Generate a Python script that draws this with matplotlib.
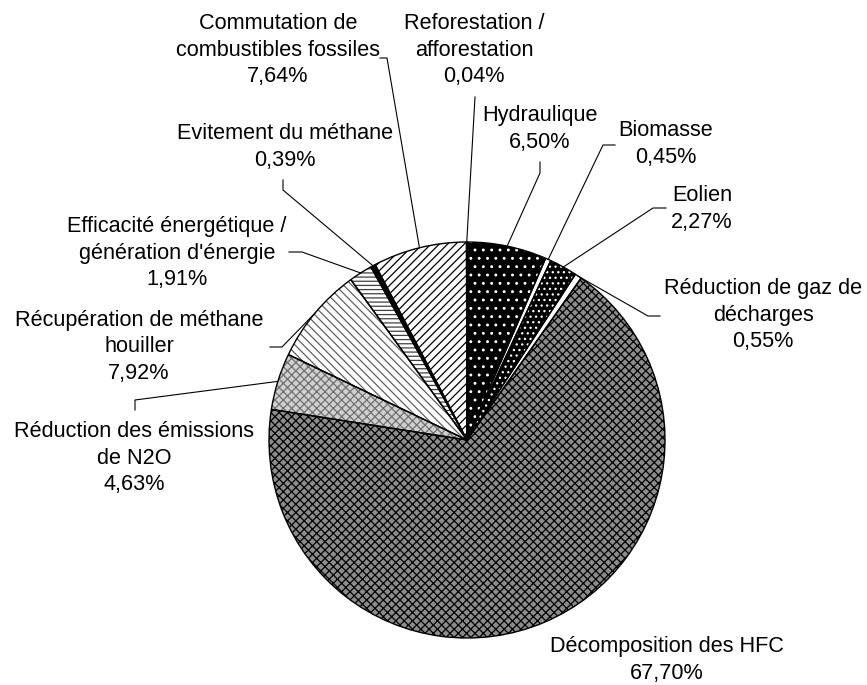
import numpy as np
import matplotlib
matplotlib.use("Agg")
import matplotlib.pyplot as plt

plt.rcParams['font.family'] = ['Liberation Sans', 'DejaVu Sans']
plt.rcParams['hatch.linewidth'] = 0.9

# data (clockwise from 12 o'clock)
categories = [
    "Hydraulique", "Biomasse", "Eolien", "Réduction de gaz de\ndécharges",
    "Décomposition des HFC", "Réduction des émissions\nde N2O",
    "Récupération de méthane\nhouiller", "Efficacité énergétique /\ngénération d'énergie",
    "Evitement du méthane", "Commutation de\ncombustibles fossiles",
    "Reforestation /\nafforestation",
]
shares = [6.50, 0.45, 2.27, 0.55, 67.70, 4.63, 7.92, 1.91, 0.39, 7.64, 0.04]
pct_labels = ["6,50%", "0,45%", "2,27%", "0,55%", "67,70%", "4,63%",
              "7,92%", "1,91%", "0,39%", "7,64%", "0,04%"]

# fill styles: face colour, hatch, hatch colour
styles = [
    ("black", "..", "white"),
    ("white", "", "white"),
    ("black", "...", "white"),
    ("white", "", "white"),
    ("#8c8c8c", "xxxx", "black"),
    ("#d0d0d0", "xxxx", "#707070"),
    ("white", "\\\\\\\\", "#606060"),
    ("white", "----", "#404040"),
    ("black", "", "black"),
    ("white", "////", "black"),
    ("white", "", "white"),
]

# label layout in pixels: text centre, leader points (text side first)
layout = [
    dict(text=(540, 129), lead=[(540, 162), (540, 173)]),
    dict(text=(666, 144), lead=[(615, 145), (603, 145)]),
    dict(text=(702, 209), lead=[(666, 208), (653, 208)]),
    dict(text=(763, 315), lead=[(660, 316), (648, 316)]),
    dict(text=(667, 660), lead=None),
    dict(text=(134, 458), lead=[(135, 410), (135, 400)]),
    dict(text=(139, 347), lead=[(270, 347), (282, 347)]),
    dict(text=(177, 253), lead=[(289, 252), (302, 252)]),
    dict(text=(285, 147), lead=[(283, 180), (283, 190)]),
    dict(text=(278, 50), lead=[(380, 58), (387, 58)]),
    dict(text=(474, 50), lead=[(475, 97)]),
]

W, H = 867, 685
cx, cy, r = 467, 440, 198

fig = plt.figure(figsize=(W / 100, H / 100), dpi=100)
ax = fig.add_axes([(cx - r) / W, (H - cy - r) / H, 2 * r / W, 2 * r / H])


def px(p):
    return ((p[0] - cx) / r, (cy - p[1]) / r)


wedges, _ = ax.pie(shares, startangle=90, counterclock=False, radius=1,
                   wedgeprops=dict(linewidth=0))
for w, (fc, hatch, hc) in zip(wedges, styles):
    w.set_facecolor(fc)
    w.set_hatch(hatch)
    w.set_edgecolor(hc)

outline, _ = ax.pie(shares, startangle=90, counterclock=False, radius=1,
                    wedgeprops=dict(fill=False, edgecolor='black', linewidth=1.0))

ax.set_xlim(-1, 1)
ax.set_ylim(-1, 1)
ax.set_aspect('equal')
ax.axis('off')

for w, name, pct, lay in zip(wedges, categories, pct_labels, layout):
    tx, ty = px(lay["text"])
    ax.text(tx, ty, f"{name}\n{pct}", ha='center', va='center', fontsize=15.6,
            linespacing=1.33, clip_on=False)
    if lay["lead"]:
        mid = np.deg2rad((w.theta1 + w.theta2) / 2)
        pts = [px(p) for p in lay["lead"]] + [(np.cos(mid), np.sin(mid))]
        xs = [p[0] for p in pts]
        ys = [p[1] for p in pts]
        ax.plot(xs, ys, color='black', linewidth=0.8, clip_on=False)

fig.savefig("out.png", dpi=100)
